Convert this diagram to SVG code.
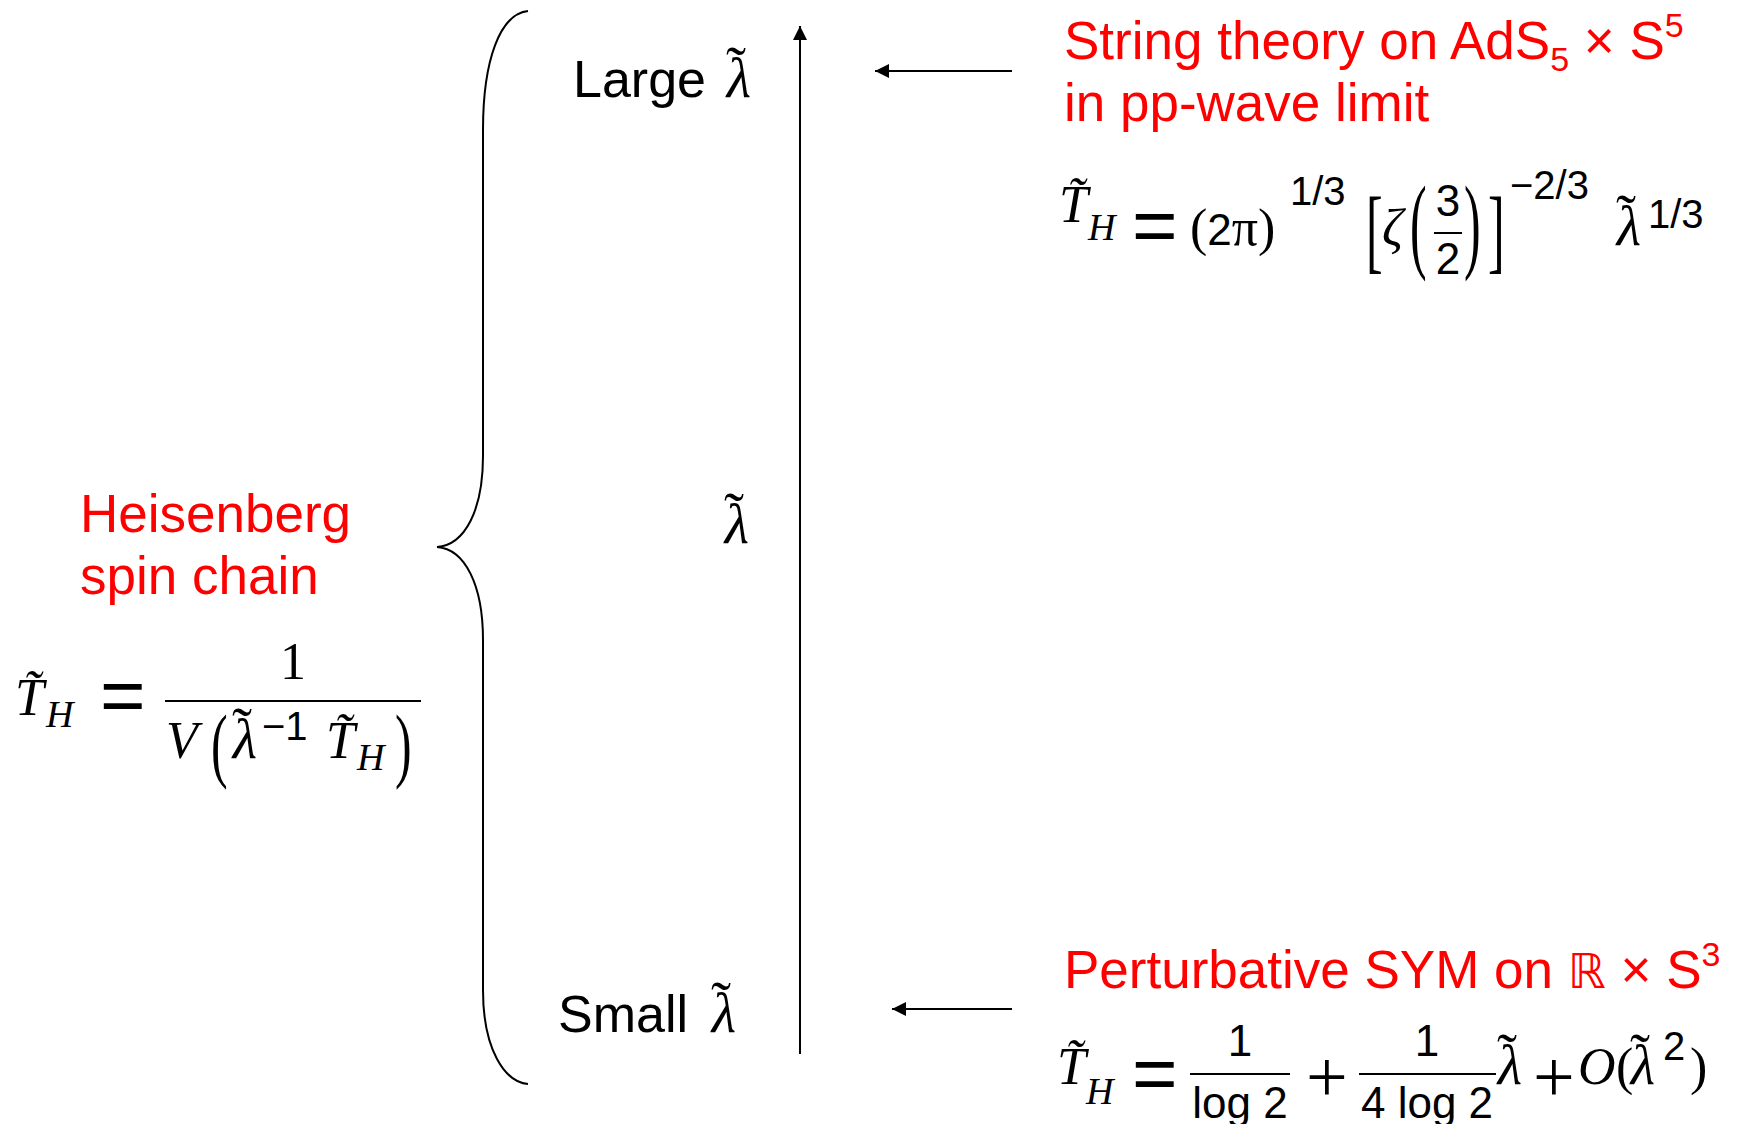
<svg xmlns="http://www.w3.org/2000/svg" width="1744" height="1124" viewBox="0 0 1744 1124">
<style>
.lbl{font-family:"Liberation Sans",Arial,sans-serif;font-size:52px;fill:#000}
.red{font-family:"Liberation Sans",Arial,sans-serif;font-size:53px;fill:#ff0000}
.mi{font-family:"Liberation Serif","Times New Roman",serif;font-style:italic;font-size:52px;fill:#000}
.lam{font-family:"Liberation Serif","Times New Roman",serif;font-style:italic;font-size:56px;fill:#000}
.tl{font-style:normal;font-size:60px}
.sub{font-family:"Liberation Serif","Times New Roman",serif;font-style:italic;font-size:38px;fill:#000}
.rm{font-family:"Liberation Serif","Times New Roman",serif;font-size:52px;fill:#000}
.dl{font-family:"Liberation Serif","Times New Roman",serif;font-size:50px;fill:#000}
.num{font-family:"Liberation Sans",Arial,sans-serif;font-size:44px;fill:#000}
.sup{font-family:"Liberation Sans",Arial,sans-serif;font-size:40px;fill:#000}
.op{font-family:"Liberation Sans",Arial,sans-serif;font-size:78px;fill:#000}
.pl{font-family:"Liberation Serif","Times New Roman",serif;font-size:74px;fill:#000}
.line{stroke:#000;stroke-width:2;fill:none}
</style>
<defs>
<marker id="ahb" viewBox="0 0 10 10" refX="10" refY="5" markerWidth="16" markerHeight="14" markerUnits="userSpaceOnUse" orient="auto">
<path d="M0,0 L10,5 L0,10 z" fill="#000"/>
</marker>
</defs>

<g id="connectors">
<line class="line" x1="800" y1="1054" x2="800" y2="26" marker-end="url(#ahb)"/>
<line class="line" x1="1012" y1="71" x2="875" y2="71" marker-end="url(#ahb)"/>
<line class="line" x1="1012" y1="1009" x2="892" y2="1009" marker-end="url(#ahb)"/>
</g>

<g id="brace">
<path class="line" d="M528,11 C500,14 483,60 483,130 L483,456 C483,510 465,545 437,547 C465,549 483,585 483,640 L483,990 C483,1050 505,1082 528,1084"/>
</g>

<g id="large-label">
<text class="lbl" x="573" y="97">Large</text>
<text class="lam" x="726" y="97">λ<tspan class="tl" dx="-25" dy="-10">˜</tspan></text>
</g>

<g id="mid-label">
<text class="lam" x="724" y="543">λ<tspan class="tl" dx="-25" dy="-10">˜</tspan></text>
</g>

<g id="small-label">
<text class="lbl" x="558" y="1032">Small</text>
<text class="lam" x="711" y="1032">λ<tspan class="tl" dx="-25" dy="-10">˜</tspan></text>
</g>

<g id="heisenberg">
<text class="red" x="80" y="532">Heisenberg</text>
<text class="red" x="80" y="594">spin chain</text>
<text class="mi" x="15" y="715">T̃</text>
<text class="sub" x="46" y="727">H</text>
<text class="op" x="100" y="722">=</text>
<line class="line" x1="165" y1="701" x2="421" y2="701"/>
<text class="rm" x="293" y="679" text-anchor="middle">1</text>
<text class="mi" x="166" y="758">V</text>
<text class="dl" transform="translate(211,772) scale(1,1.64)">(</text>
<text class="lam" x="232" y="758">λ<tspan class="tl" dx="-25" dy="-10">˜</tspan></text>
<text class="sup" x="262" y="740" font-size="44">−1</text>
<text class="mi" x="326" y="758">T̃</text>
<text class="sub" x="357" y="770">H</text>
<text class="dl" transform="translate(395,772) scale(1,1.64)">)</text>
</g>

<g id="string-theory">
<text class="red" x="1064" y="59">String theory on AdS<tspan font-size="34" dy="12">5</tspan><tspan dy="-12"> × S</tspan><tspan font-size="34" dy="-22">5</tspan></text>
<text class="red" x="1064" y="121">in pp-wave limit</text>
<text class="mi" x="1059" y="222">T̃</text>
<text class="sub" x="1088" y="240">H</text>
<text class="op" x="1132" y="252">=</text>
<text class="rm" x="1190" y="245" font-size="58">(<tspan class="num" font-size="50">2</tspan>π)</text>
<text class="sup" x="1290" y="205">1/3</text>
<text class="dl" transform="translate(1366,262) scale(1,1.85)">[</text>
<text class="mi" x="1382" y="245">ζ</text>
<text class="dl" transform="translate(1410,259) scale(1,2.13)">(</text>
<text class="num" x="1448" y="216" text-anchor="middle">3</text>
<line class="line" x1="1434" y1="233" x2="1462" y2="233"/>
<text class="num" x="1448" y="274" text-anchor="middle">2</text>
<text class="dl" transform="translate(1464,259) scale(1,2.13)">)</text>
<text class="dl" transform="translate(1488,262) scale(1,1.85)">]</text>
<text class="sup" x="1510" y="199">−2/3</text>
<text class="lam" x="1616" y="245">λ<tspan class="tl" dx="-25" dy="-10">˜</tspan></text>
<text class="sup" x="1648" y="228">1/3</text>
</g>

<g id="perturbative">
<text class="red" x="1064" y="988">Perturbative SYM on <tspan font-family="DejaVu Sans" font-size="48">ℝ</tspan> × S<tspan font-size="34" dy="-22">3</tspan></text>
<text class="mi" x="1057" y="1084">T̃</text>
<text class="sub" x="1086" y="1104">H</text>
<text class="op" x="1132" y="1100">=</text>
<line class="line" x1="1190" y1="1074" x2="1290" y2="1074"/>
<text class="num" x="1240" y="1056" text-anchor="middle">1</text>
<text class="num" x="1240" y="1118" text-anchor="middle">log 2</text>
<text class="pl" x="1306" y="1102">+</text>
<line class="line" x1="1359" y1="1074" x2="1496" y2="1074"/>
<text class="num" x="1427" y="1056" text-anchor="middle">1</text>
<text class="num" x="1427" y="1118" text-anchor="middle">4 log 2</text>
<text class="lam" x="1497" y="1084">λ<tspan class="tl" dx="-25" dy="-10">˜</tspan></text>
<text class="pl" x="1533" y="1102">+</text>
<text class="mi" x="1578" y="1084">O</text>
<text class="rm" x="1616" y="1084">(</text>
<text class="lam" x="1630" y="1084">λ<tspan class="tl" dx="-25" dy="-10">˜</tspan></text>
<text class="sup" x="1663" y="1060">2</text>
<text class="rm" x="1690" y="1084">)</text>
</g>
</svg>
